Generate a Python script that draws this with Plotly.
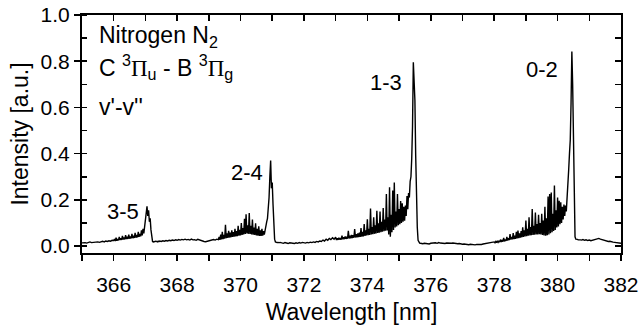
import numpy as np
import plotly.graph_objects as go

# ---- data: N2 second positive system emission spectrum ----
# each segment: (start wavelength nm, sampling step nm, intensities)

# 365.00 - 365.95, step 0.05
int_base_a = [0.014, 0.016, 0.015, 0.013, 0.016, 0.018, 0.015, 0.016, 0.019, 0.017,
              0.018, 0.016, 0.019, 0.021, 0.018, 0.022, 0.020, 0.023, 0.021, 0.025]
# 366.000 - 367.450, step 0.025  (band 3-5)
int_band_3_5 = [0.024, 0.030, 0.022, 0.036, 0.023, 0.031, 0.025, 0.040, 0.026, 0.034,
                0.027, 0.044, 0.028, 0.037, 0.029, 0.047, 0.030, 0.040, 0.031, 0.050,
                0.032, 0.042, 0.033, 0.053, 0.034, 0.045, 0.035, 0.057, 0.036, 0.048,
                0.038, 0.062, 0.040, 0.052, 0.042, 0.068, 0.046, 0.075, 0.055, 0.085,
                0.100, 0.140, 0.172, 0.130, 0.155, 0.105, 0.120, 0.070, 0.035, 0.020,
                0.018, 0.020, 0.019, 0.021, 0.020, 0.018, 0.021, 0.019, 0.022]
# 367.50 - 369.25, step 0.05
int_base_c = [0.020, 0.023, 0.021, 0.024, 0.022, 0.025, 0.023, 0.026, 0.024, 0.027,
              0.025, 0.028, 0.026, 0.029, 0.027, 0.030, 0.027, 0.029, 0.026, 0.030,
              0.027, 0.028, 0.025, 0.029, 0.026, 0.024, 0.022, 0.020, 0.019, 0.021,
              0.020, 0.022, 0.024, 0.028, 0.026, 0.030]
# 369.300 - 371.250, step 0.025  (band 2-4)
int_band_2_4 = [0.028, 0.040, 0.027, 0.050, 0.029, 0.062, 0.030, 0.048, 0.032, 0.092,
                0.034, 0.055, 0.035, 0.066, 0.037, 0.058, 0.038, 0.068, 0.040, 0.060,
                0.041, 0.075, 0.042, 0.065, 0.043, 0.088, 0.045, 0.070, 0.046, 0.100,
                0.048, 0.078, 0.050, 0.118, 0.052, 0.138, 0.055, 0.090, 0.053, 0.143,
                0.052, 0.088, 0.050, 0.115, 0.049, 0.080, 0.048, 0.098, 0.046, 0.075,
                0.045, 0.085, 0.044, 0.068, 0.044, 0.075, 0.045, 0.065, 0.050, 0.075,
                0.085, 0.105, 0.120, 0.160, 0.210, 0.300, 0.370, 0.250, 0.275, 0.180,
                0.080, 0.030, 0.018, 0.016, 0.015, 0.016, 0.014, 0.015, 0.016]
# 371.30 - 372.95, step 0.05
int_base_e = [0.014, 0.012, 0.015, 0.013, 0.011, 0.014, 0.012, 0.013, 0.011, 0.014,
              0.012, 0.015, 0.013, 0.016, 0.014, 0.013, 0.016, 0.014, 0.017, 0.015,
              0.018, 0.016, 0.020, 0.018, 0.022, 0.020, 0.026, 0.022, 0.030, 0.025,
              0.033, 0.028, 0.036, 0.030]
# 373.000 - 375.750, step 0.025  (band 1-3)
int_band_1_3 = [0.038, 0.026, 0.034, 0.027, 0.036, 0.028, 0.035, 0.028, 0.045, 0.029,
                0.038, 0.030, 0.042, 0.031, 0.040, 0.032, 0.066, 0.033, 0.045, 0.034,
                0.048, 0.035, 0.047, 0.036, 0.074, 0.037, 0.052, 0.038, 0.055, 0.039,
                0.058, 0.040, 0.078, 0.041, 0.062, 0.042, 0.095, 0.044, 0.068, 0.046,
                0.116, 0.047, 0.075, 0.048, 0.163, 0.050, 0.082, 0.051, 0.125, 0.053,
                0.090, 0.055, 0.153, 0.057, 0.098, 0.058, 0.150, 0.060, 0.105, 0.062,
                0.165, 0.064, 0.115, 0.066, 0.225, 0.068, 0.125, 0.050, 0.254, 0.040,
                0.135, 0.060, 0.240, 0.070, 0.275, 0.080, 0.150, 0.085, 0.225, 0.090,
                0.160, 0.095, 0.195, 0.100, 0.185, 0.105, 0.170, 0.110, 0.175, 0.130,
                0.217, 0.160, 0.230, 0.210, 0.280, 0.300, 0.380, 0.520, 0.795, 0.700,
                0.630, 0.390, 0.200, 0.080, 0.025, 0.015, 0.013, 0.012, 0.011, 0.012,
                0.010]
# 375.80 - 377.95, step 0.05
int_base_g = [0.012, 0.010, 0.011, 0.009, 0.012, 0.013, 0.011, 0.014, 0.012, 0.015,
              0.013, 0.012, 0.014, 0.011, 0.013, 0.012, 0.010, 0.012, 0.013, 0.011,
              0.012, 0.010, 0.011, 0.009, 0.008, 0.009, 0.007, 0.008, 0.006, 0.008,
              0.006, 0.007, 0.005, 0.007, 0.006, 0.008, 0.007, 0.009, 0.010, 0.012,
              0.011, 0.014, 0.016, 0.015]
# 378.000 - 380.750, step 0.025  (band 0-2)
int_band_0_2 = [0.018, 0.014, 0.020, 0.015, 0.023, 0.016, 0.021, 0.017, 0.028, 0.018,
                0.024, 0.019, 0.035, 0.020, 0.028, 0.022, 0.040, 0.024, 0.034, 0.026,
                0.052, 0.028, 0.040, 0.029, 0.056, 0.030, 0.045, 0.031, 0.062, 0.033,
                0.067, 0.034, 0.055, 0.036, 0.065, 0.038, 0.081, 0.040, 0.068, 0.042,
                0.110, 0.043, 0.075, 0.045, 0.125, 0.046, 0.082, 0.047, 0.160, 0.048,
                0.088, 0.049, 0.145, 0.050, 0.095, 0.050, 0.135, 0.051, 0.100, 0.050,
                0.140, 0.048, 0.110, 0.046, 0.170, 0.045, 0.120, 0.047, 0.215, 0.050,
                0.225, 0.055, 0.232, 0.060, 0.140, 0.065, 0.262, 0.070, 0.155, 0.080,
                0.210, 0.085, 0.196, 0.095, 0.190, 0.100, 0.170, 0.115, 0.180, 0.130,
                0.175, 0.150, 0.200, 0.260, 0.330, 0.400, 0.460, 0.620, 0.842, 0.700,
                0.500, 0.246, 0.040, 0.030, 0.031, 0.029, 0.027, 0.028, 0.029, 0.027,
                0.026]
# 380.80 - 382.00, step 0.05
int_base_i = [0.028, 0.025, 0.027, 0.024, 0.026, 0.023, 0.025, 0.027, 0.030, 0.032,
              0.033, 0.030, 0.028, 0.025, 0.024, 0.022, 0.020, 0.021, 0.018, 0.017,
              0.016, 0.015, 0.013, 0.012, 0.012]

segments = [(365.00, 0.05, int_base_a), (366.00, 0.025, int_band_3_5),
            (367.50, 0.05, int_base_c), (369.30, 0.025, int_band_2_4),
            (371.30, 0.05, int_base_e), (373.00, 0.025, int_band_1_3),
            (375.80, 0.05, int_base_g), (378.00, 0.025, int_band_0_2),
            (380.80, 0.05, int_base_i)]

wavelength, intensity = [], []
for start, step, vals in segments:
    wavelength.extend(np.round(start + step * np.arange(len(vals)), 3).tolist())
    intensity.extend(vals)

band_labels = ["3-5", "2-4", "1-3", "0-2"]
band_label_x = [366.28, 370.2, 374.6, 379.5]
band_label_y = [0.151, 0.32, 0.708, 0.765]

FONT = "Liberation Sans, Arial, sans-serif"

fig = go.Figure()
fig.add_trace(go.Scatter(x=wavelength, y=intensity, mode="lines",
                         line=dict(color="black", width=1.4),
                         showlegend=False, hoverinfo="skip"))
# invisible helper trace for the mirrored (top / right) axes
fig.add_trace(go.Scatter(x=wavelength[:1], y=intensity[:1], xaxis="x2", yaxis="y2",
                         mode="markers", marker=dict(opacity=0), showlegend=False,
                         hoverinfo="skip"))

axis_common = dict(showline=True, linecolor="black", linewidth=2, showgrid=False,
                   zeroline=False, tickcolor="black", tickwidth=1.5, automargin=False)

YR = [-0.03, 1.0]
fig.update_layout(
    width=642, height=327,
    margin=dict(l=82, r=21, t=15, b=74),
    paper_bgcolor="white", plot_bgcolor="white",
    font=dict(family=FONT, color="black"),
    xaxis=dict(range=[365, 382], tick0=366, dtick=2, ticks="outside", ticklen=6,
               minor=dict(dtick=1, ticks="outside", ticklen=6, tickcolor="black", tickwidth=1.5),
               tickfont=dict(size=21, family=FONT), ticklabelstandoff=6,
               ticklabeloverflow="allow",
               title=dict(text="Wavelength [nm]", font=dict(size=23, family=FONT), standoff=9),
               **axis_common),
    yaxis=dict(range=YR, tick0=0, dtick=0.2, tickformat=".1f", ticks="outside",
               ticklen=6, ticklabeloverflow="allow",
               minor=dict(dtick=0.1, ticks="inside", ticklen=5, tickcolor="black", tickwidth=1.5),
               tickfont=dict(size=21, family=FONT),
               title=dict(text="Intensity [a.u.]", font=dict(size=23, family=FONT), standoff=6),
               **axis_common),
    xaxis2=dict(range=[365, 382], overlaying="x", side="top", anchor="y2",
                tick0=365, dtick=1, ticks="inside", ticklen=6, showticklabels=False,
                **axis_common),
    yaxis2=dict(range=YR, overlaying="y", side="right", anchor="x2",
                tick0=0, dtick=0.1, ticks="inside", ticklen=6, showticklabels=False,
                **axis_common),
)

for txt, bx, by in zip(band_labels, band_label_x, band_label_y):
    fig.add_annotation(x=bx, y=by, xref="x", yref="y", text=txt, showarrow=False,
                       xanchor="center", yanchor="middle",
                       font=dict(size=22, family=FONT, color="black"))

PI = "<span style='font-family:Liberation Serif'>\u03a0</span>"
block = [("Nitrogen N<sub>2</sub>", 0.905),
         ("C <sup>3</sup>" + PI + "<sub>u</sub> - B <sup>3</sup>" + PI + "<sub>g</sub>", 0.775),
         ("v'-v''", 0.6)]
for txt, by in block:
    fig.add_annotation(x=365.48, y=by, xref="x", yref="y", text=txt, showarrow=False,
                       xanchor="left", yanchor="middle",
                       font=dict(size=23, family=FONT, color="black"))

# remove the page's default body margin so the figure fills the window exactly
fig.write_html("out.html", config={"displayModeBar": False, "staticPlot": True},
               post_script="document.body.style.margin='0';")
